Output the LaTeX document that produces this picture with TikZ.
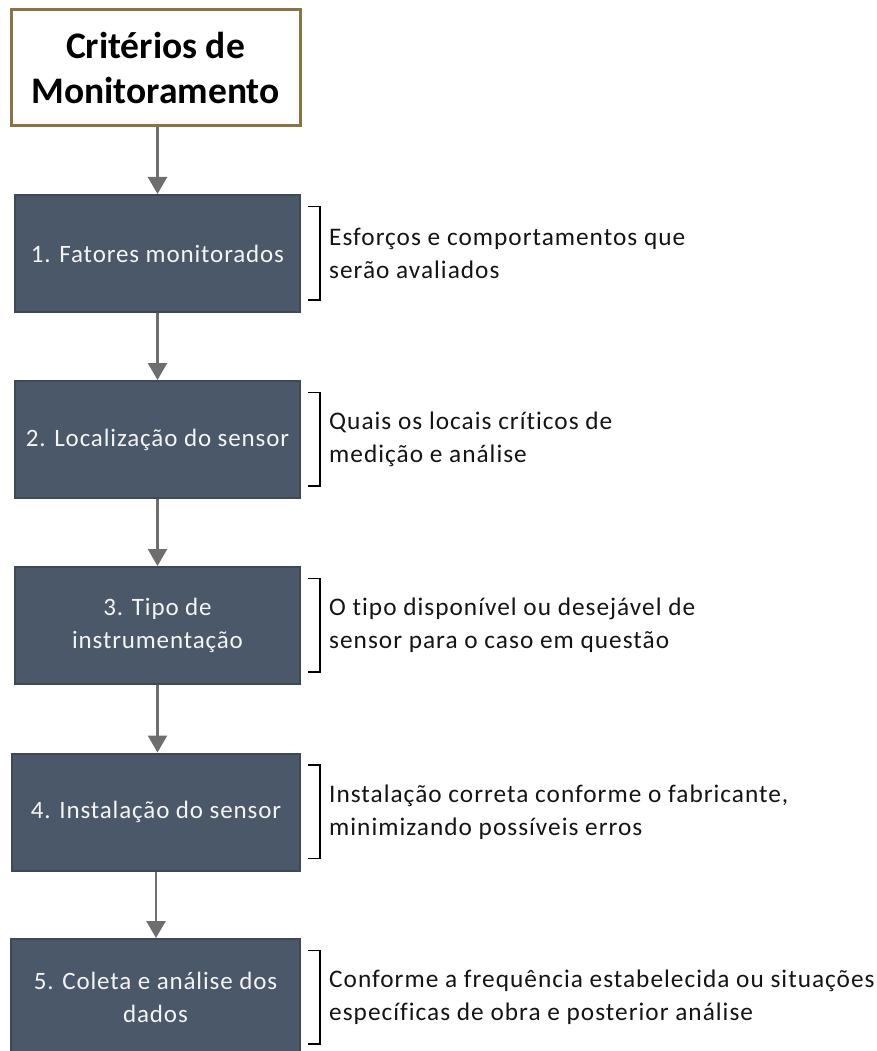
\documentclass[tikz,border=0pt]{standalone}
\usepackage{fontspec}
\setmainfont{Carlito}[Ligatures=NoCommon]
\newfontfamily\spfont{Carlito}[LetterSpace=3.5,Ligatures=NoCommon]
\newfontfamily\sidefont{Carlito}[LetterSpace=4,Ligatures=NoCommon]
\usetikzlibrary{arrows.meta,calc}
\definecolor{boxfill}{HTML}{4B5869}
\definecolor{boxline}{HTML}{3E4957}
\definecolor{titleline}{HTML}{8A7447}
\definecolor{arrgray}{HTML}{6E6E6E}
\definecolor{boxtext}{HTML}{F4F4F4}
\definecolor{sidetext}{HTML}{141414}
\tikzset{
  titlebox/.style={draw=titleline, line width=3pt, fill=white, minimum width=289, minimum height=116, inner sep=0pt, align=center, font=\bfseries\fontsize{37.5}{45}\selectfont},
  stepbox/.style={draw=boxline, line width=2pt, fill=boxfill, minimum height=117, inner sep=0pt, align=center, text=boxtext, font=\spfont\fontsize{25}{33}\selectfont},
  sidenote/.style={anchor=west, inner sep=0pt, align=left, text=sidetext, font=\sidefont\fontsize{25.3}{33}\selectfont},
  flowarrow/.style={draw=arrgray, line width=2.5pt, -{Triangle[width=19pt,length=17pt]}},
  bracketline/.style={draw=black, line width=1.8pt}
}
\begin{document}
\begin{tikzpicture}[x=1pt,y=-1pt]
\useasboundingbox (0,0) rectangle (876,1051);
\node[titlebox] (t) at (155.5,68) {Critérios de\\Monitoramento};
\node[stepbox, minimum width=285] (b1) at (157.5,253.5) {1. Fatores monitorados};
\node[stepbox, minimum width=285] (b2) at (157.5,439.5) {2. Localização do sensor};
\node[stepbox, minimum width=285] (b3) at (157.5,625.5) {3. Tipo de\\instrumentação};
\node[stepbox, minimum width=288] (b4) at (156,812) {4. Instalação do sensor};
\node[stepbox, minimum width=289] (b5) at (155.5,997.5) {5. Coleta e análise dos\\dados};
\draw[flowarrow] (b1.north |- t.south) -- (b1.north);
\draw[flowarrow] (b1.south) -- (b2.north);
\draw[flowarrow] (b2.south) -- (b3.north);
\draw[flowarrow] (b3.south) -- (b3.south |- b4.north);
\draw[flowarrow] (b4.south) -- (b4.south |- b5.north);
\foreach \b in {b1,b2,b3,b4,b5}{
  \draw[bracketline] ($(\b.north east)+(7,12.5)$) -- ++(12,0) -- ($(\b.south east)+(19,-13)$) -- ++(-12,0);
}
\node[sidenote] (n1) at ($(b1.east)+(28,0)$) {Esforços e comportamentos que\\serão avaliados};
\node[sidenote] (n2) at ($(b2.east)+(28,0)$) {Quais os locais críticos de\\medição e análise};
\node[sidenote] (n3) at ($(b3.east)+(28,0)$) {O tipo disponível ou desejável de\\sensor para o caso em questão};
\node[sidenote] (n4) at ($(b4.east)+(28,0)$) {Instalação correta conforme o fabricante,\\minimizando possíveis erros};
\node[sidenote] (n5) at ($(b5.east)+(28,0)$) {Conforme a frequência estabelecida ou situações\\específicas de obra e posterior análise};
\end{tikzpicture}
\end{document}
